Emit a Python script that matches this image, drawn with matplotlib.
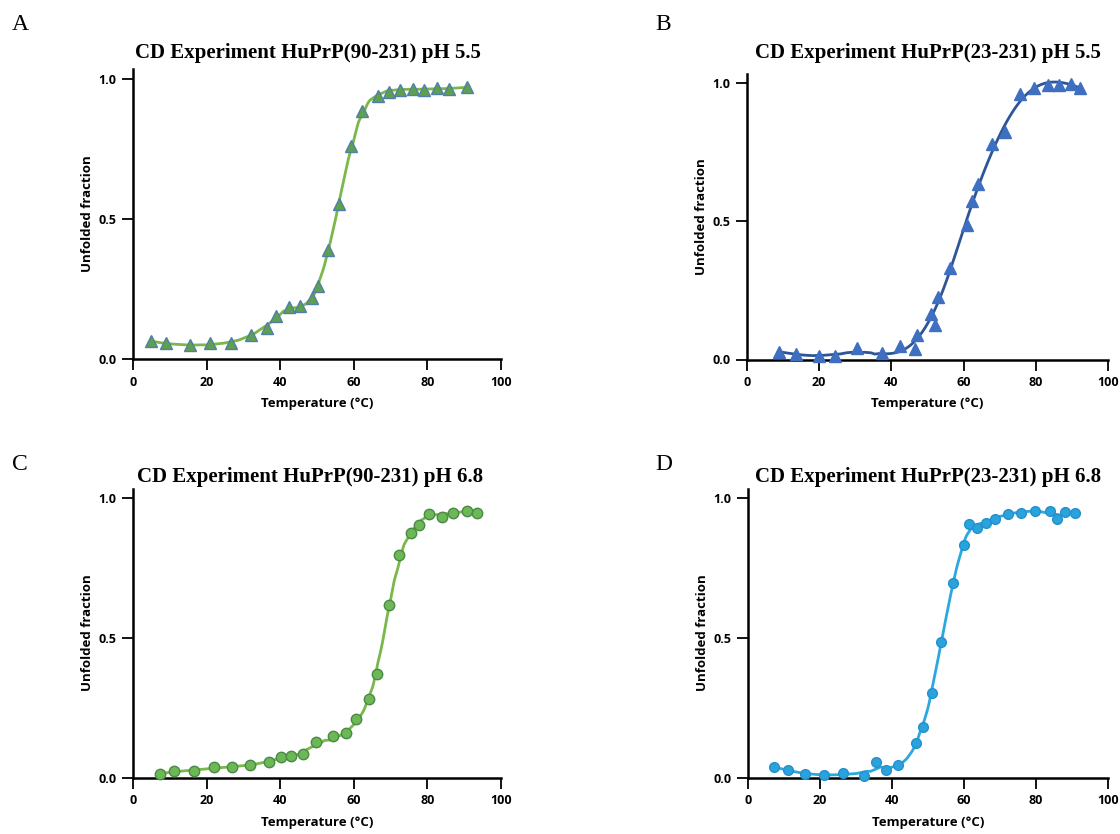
import numpy as np
import matplotlib
matplotlib.use("Agg")
import matplotlib.pyplot as plt

# ---- measured unfolded fractions vs temperature (°C) ----
temp_a = [4.8, 8.9, 15.5, 20.9, 26.6, 32.0, 36.4, 38.8, 42.4, 45.4, 48.7, 50.4,
          53.0, 56.0, 59.2, 62.1, 66.5, 69.5, 72.6, 76.0, 79.1, 82.5, 85.9, 90.8]
frac_a = [0.064, 0.056, 0.050, 0.056, 0.058, 0.086, 0.110, 0.154, 0.187, 0.189, 0.219, 0.260,
          0.389, 0.554, 0.762, 0.887, 0.940, 0.954, 0.962, 0.963, 0.962, 0.967, 0.964, 0.971]

temp_b = [8.8, 13.7, 19.9, 24.4, 30.5, 37.5, 42.4, 46.4, 47.1, 51.1, 52.2, 53.0,
          56.1, 60.9, 62.3, 63.9, 67.9, 71.5, 75.7, 79.4, 83.3, 86.5, 89.8, 92.3]
frac_b = [0.028, 0.021, 0.013, 0.013, 0.043, 0.024, 0.048, 0.037, 0.089, 0.164, 0.124, 0.225,
          0.331, 0.487, 0.576, 0.636, 0.780, 0.824, 0.961, 0.983, 0.994, 0.996, 0.998, 0.983]

temp_c = [7.3, 11.1, 16.5, 21.9, 26.9, 31.7, 37.0, 40.1, 42.9, 46.2, 49.6, 54.4, 57.9,
          60.7, 64.2, 66.2, 69.7, 72.3, 75.6, 77.7, 80.5, 84.0, 86.9, 90.8, 93.4]
frac_c = [0.013, 0.024, 0.025, 0.037, 0.039, 0.045, 0.057, 0.075, 0.078, 0.085, 0.126, 0.150, 0.161,
          0.209, 0.280, 0.372, 0.618, 0.798, 0.877, 0.906, 0.943, 0.934, 0.949, 0.953, 0.947]

temp_d = [7.2, 11.0, 15.8, 21.0, 26.3, 32.3, 35.5, 38.4, 41.7, 46.7, 48.5, 51.1, 53.6,
          57.0, 60.1, 61.3, 63.7, 66.0, 68.6, 72.1, 75.8, 79.6, 84.0, 85.8, 88.0, 90.8]
frac_d = [0.038, 0.029, 0.014, 0.010, 0.016, 0.007, 0.055, 0.029, 0.045, 0.125, 0.181, 0.304, 0.486,
          0.698, 0.834, 0.907, 0.894, 0.913, 0.926, 0.944, 0.949, 0.955, 0.956, 0.925, 0.952, 0.947]

titles = ["CD Experiment HuPrP(90-231) pH 5.5", "CD Experiment HuPrP(23-231) pH 5.5",
          "CD Experiment HuPrP(90-231) pH 6.8", "CD Experiment HuPrP(23-231) pH 6.8"]
letters = ["A", "B", "C", "D"]
yticks = [0.0, 0.5, 1.0]
xticks = [0, 20, 40, 60, 80, 100]


def smooth_curve(x, y, h_min, k=3, n=400):
    """Gaussian-weighted local quadratic regression with adaptive bandwidth."""
    x = np.asarray(x, float)
    y = np.asarray(y, float)
    grid = np.linspace(x.min(), x.max(), n)
    out = np.empty_like(grid)
    for i, g in enumerate(grid):
        d = np.abs(x - g)
        h = max(h_min, np.sort(d)[k] * 0.7)
        w = np.sqrt(np.exp(-0.5 * (d / h) ** 2))
        A = np.vstack([np.ones_like(x), x - g, (x - g) ** 2]).T * w[:, None]
        coef, *_ = np.linalg.lstsq(A, y * w, rcond=None)
        out[i] = coef[0]
    return grid, out


fig = plt.figure(figsize=(11.2, 8.34), dpi=100)
W, H = 1120, 834

# axes boxes in pixels: left, right(x=100), y0 pixel, y1 pixel (value 1.0)
boxes = [(133, 501, 359, 79), (747, 1108, 359.5, 83.5),
         (133, 501, 777.7, 498.3), (748, 1108, 777.7, 498.3)]
panels = [
    (temp_a, frac_a, dict(marker="^", ms=8, mfc="#5fa04f", mec="#4f7fa6"), "#79b84a", 1.5),
    (temp_b, frac_b, dict(marker="^", ms=9, mfc="#3e6fc0", mec="#3e6fc0"), "#2e5597", 7.0),
    (temp_c, frac_c, dict(marker="o", ms=7.5, mfc="#6cb756", mec="#4a8a45"), "#79b84a", 1.6),
    (temp_d, frac_d, dict(marker="o", ms=7, mfc="#2aa3dd", mec="#2490cc"), "#2aa8df", 2.6),
]
title_x = [308, 928, 310, 928]
title_y = [53, 53, 477, 477]
letter_pos = [(12, 25), (655, 25), (12, 465), (655, 465)]
ymax = 1.035

for i, ((xl, xr, y0, y1), (tx, fy, mk, lc, hmin)) in enumerate(zip(boxes, panels)):
    unit = y0 - y1
    top = y0 - unit * ymax
    ax = fig.add_axes([xl / W, 1 - y0 / H, (xr - xl) / W, (y0 - top) / H])
    gx, gy = smooth_curve(tx, fy, hmin)
    ax.plot(gx, gy, color=lc, lw=2.0, zorder=2)
    ax.plot(tx, fy, ls="none", mew=1.0, zorder=3, clip_on=False, **mk)
    ax.set_xlim(0, 100)
    ax.set_ylim(0, ymax)
    for s in ("top", "right"):
        ax.spines[s].set_visible(False)
    for s in ("left", "bottom"):
        ax.spines[s].set_linewidth(1.8)
    ax.set_xticks(xticks)
    ax.set_yticks(yticks)
    ax.set_yticklabels([f"{v:.1f}" for v in yticks])
    ax.tick_params(direction="out", length=8, width=1.3, pad=4, labelsize=9)
    for lab in ax.get_xticklabels() + ax.get_yticklabels():
        lab.set_fontfamily("Open Sans")
        lab.set_fontweight("bold")
    ax.set_xlabel("Temperature (°C)", fontfamily="Open Sans", fontweight="bold",
                  fontsize=9.5, labelpad=6)
    ax.set_ylabel("Unfolded fraction", fontfamily="Open Sans", fontweight="bold",
                  fontsize=9.5, labelpad=3)
    fig.text(title_x[i] / W, 1 - title_y[i] / H, titles[i], ha="center", va="center",
             fontfamily="Liberation Serif", fontweight="bold", fontsize=15)
    lx, ly = letter_pos[i]
    fig.text(lx / W, 1 - ly / H, letters[i], ha="left", va="center",
             fontfamily="Liberation Serif", fontsize=17)

fig.savefig("out.png", dpi=100)
